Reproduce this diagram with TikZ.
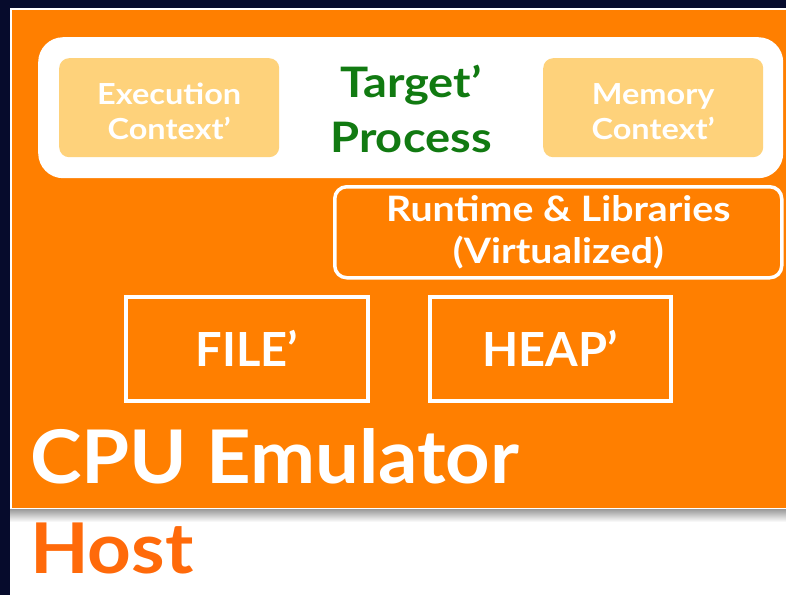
\documentclass[tikz,border=0pt]{standalone}
\usepackage{fontspec}
\setmainfont{Lato}[FakeStretch=1.12]
\newfontfamily\capsfont{Lato}
\newfontfamily\cpufont{Lato}[FakeStretch=1.05]
\newfontfamily\hostfont{Lato}[FakeStretch=1.09]
\definecolor{navy}{HTML}{060B2C}
\definecolor{emuorange}{HTML}{FF7F00}
\definecolor{hostorange}{HTML}{FF6A0A}
\definecolor{ctxfill}{HTML}{FED27B}
\definecolor{tgreen}{HTML}{117A11}
\tikzset{
  ctxbox/.style={fill=ctxfill, rounded corners=10pt, minimum width=220pt, minimum height=99pt, inner sep=0pt},
  ctxtext/.style={text=white, font=\fontsize{29}{35}\selectfont\bfseries, align=center, inner sep=0pt},
  outlinebox/.style={draw=white, line width=3.5pt, inner sep=0pt, align=center, text=white},
}
\begin{document}
\begin{tikzpicture}[x=1pt,y=-1pt]
\useasboundingbox (0,0) rectangle (786,595);
\fill[navy] (0,0) rectangle (786,595);
% host white area
\fill[white] (10,8) rectangle (786,595);
% shadow under emulator box
\shade[top color=black!40, bottom color=white] (10,509) rectangle (786,522);
% emulator box
\node[fill=emuorange, draw=white, line width=1pt, minimum width=775pt, minimum height=499pt, inner sep=0pt, anchor=north west] (emu) at (11,9) {};
% target process
\node[fill=white, rounded corners=25pt, minimum width=745pt, minimum height=141pt, inner sep=0pt, anchor=north west] (target) at (38,37) {};
\node[ctxbox, anchor=north west] (exec) at (59,58) {};
\node[ctxbox, anchor=north west] (mem) at (543,58) {};
\node[ctxtext] (exectext) at ([yshift=-3.5pt]exec.center) {Execution\\Context’};
\node[ctxtext] (memtext) at ([yshift=-3.5pt]mem.center) {Memory\\Context’};
\node[text=tgreen, font=\fontsize{42}{55}\selectfont\bfseries, align=center, inner sep=0pt] (tp) at (411,109) {Target’\\Process};
% runtime
\node[outlinebox, rounded corners=12pt, minimum width=447pt, minimum height=91pt, anchor=north west, font=\fontsize{35}{42}\selectfont\bfseries] (rt) at (333,185) {Runtime \& Libraries\\(Virtualized)};
% file / heap
\node[outlinebox, minimum width=242pt, minimum height=104pt, anchor=north west, font=\capsfont\fontsize{47}{50}\selectfont\bfseries] (file) at (124,295) {FILE’};
\node[outlinebox, minimum width=241pt, minimum height=104pt, anchor=north west, font=\capsfont\fontsize{47}{50}\selectfont\bfseries] (heap) at (428,295) {HEAP’};
% labels
\node[text=white, font=\cpufont\fontsize{74}{80}\selectfont\bfseries, anchor=base west, inner sep=0pt] (cpu) at (30,483) {CPU Emulator};
\node[text=hostorange, font=\hostfont\fontsize{70}{76}\selectfont\bfseries, anchor=base west, inner sep=0pt] (host) at (30,573) {Host};
\end{tikzpicture}
\end{document}
